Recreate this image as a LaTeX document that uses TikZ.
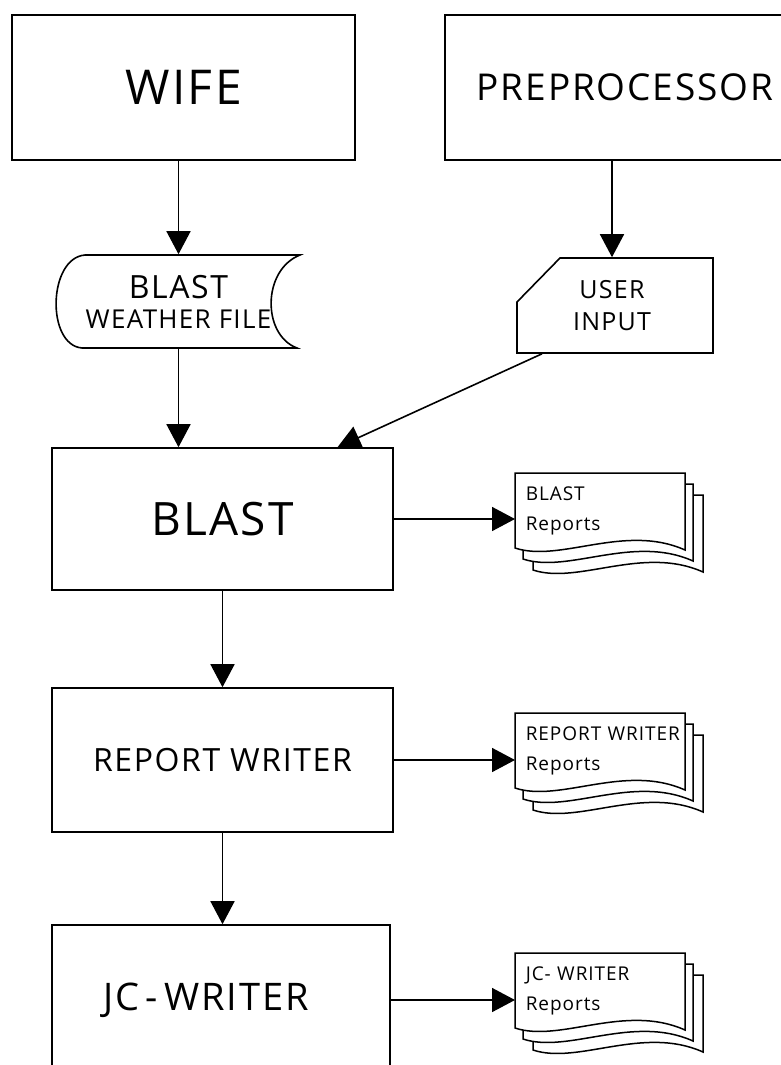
\documentclass[tikz,border=0pt]{standalone}
\usepackage{fontspec}
\setmainfont{Open Sans}[LetterSpace=5]
\usetikzlibrary{arrows.meta,backgrounds}

\tikzset{
  docsheet/.pic={\draw[line width=1.5pt,fill=white] (0,0) -- (170,0) -- (170,77) .. controls (110,50) and (45,90) .. (0,75) -- cycle;}
}

\begin{document}
\begin{tikzpicture}[x=1pt,y=-1pt,line width=1.6pt,
  box/.style={draw,inner sep=0pt},
  blank/.style={inner sep=0pt},
  report/.style={inner xsep=10pt,inner ysep=0pt,minimum width=170pt,minimum height=75pt,
    text width=172pt,align=left,anchor=north west,font=\fontsize{19}{28}\selectfont},
  arr/.style={-{Triangle[length=23pt,width=24pt]}}]
\useasboundingbox (0,0) rectangle (781,1065);

% programs
\node[box,minimum width=343pt,minimum height=145pt,font=\fontsize{48}{48}\selectfont] (wife) at (183.5,87.5) {WIFE};
\node[box,minimum width=360pt,minimum height=145pt,font=\fontsize{37}{37}\selectfont] (prep) at (625,87.5) {PREPROCESSOR};
\node[box,minimum width=341pt,minimum height=142pt,font=\fontsize{46}{46}\selectfont] (blast) at (222.5,519) {BLAST};
\node[box,minimum width=341pt,minimum height=144pt,font=\fontsize{32}{32}\selectfont] (rwriter) at (222.5,760) {REPORT WRITER};
\node[box,minimum width=338pt,minimum height=150pt,font=\fontsize{38}{38}\selectfont] (jcwriter) at (221,1000) {JC\,-\,WRITER\hspace*{30pt}};

% weather file and user input
\draw (85,255) -- (300,255) .. controls (262,270) and (262,335) .. (297,348) -- (82,348) .. controls (46,345) and (48,258) .. cycle;
\node[blank,minimum width=243pt,minimum height=93pt,align=center] (wfile) at (178.5,301.5)
  {\fontsize{32}{32}\selectfont BLAST\\[10pt]\fontsize{26}{26}\selectfont WEATHER FILE};
\draw (560,258) -- (713,258) -- (713,353) -- (517,353) -- (517,302) -- cycle;
\node[blank,minimum width=196pt,minimum height=95pt,align=center,font=\fontsize{25}{25}\selectfont] (uinput) at (612,305.5) {USER\\[7pt]INPUT};

% reports
\node[report] (rblast) at (515,473) {BLAST\\[2pt]Reports};
\node[report] (rrwriter) at (515,713) {REPORT WRITER\\[2pt]Reports};
\node[report] (rjcwriter) at (515,953) {JC- WRITER\\[2pt]Reports};
\begin{scope}[on background layer]
\foreach \r in {rblast,rrwriter,rjcwriter} {
  \pic at ([xshift=18pt,yshift=-22pt]\r.north west) {docsheet};
  \pic at ([xshift=8pt,yshift=-11pt]\r.north west) {docsheet};
  \pic at (\r.north west) {docsheet};
}
\end{scope}

% flow
\draw[arr] (wfile.north |- wife.south) -- (wfile.north);
\draw[arr] (wfile.south) -- (wfile.south |- blast.north);
\draw[arr] (uinput.north |- prep.south) -- (uinput.north);
\draw[arr] ([xshift=-70pt]uinput.south) -- ([xshift=115pt]blast.north);
\draw[arr] (blast.south) -- (rwriter.north);
\draw[arr] (rwriter.south) -- (rwriter.south |- jcwriter.north);
\draw[arr] (blast.east) -- (blast.east -| rblast.west);
\draw[arr] (rwriter.east) -- (rwriter.east -| rrwriter.west);
\draw[arr] (jcwriter.east) -- (jcwriter.east -| rjcwriter.west);
\end{tikzpicture}
\end{document}
